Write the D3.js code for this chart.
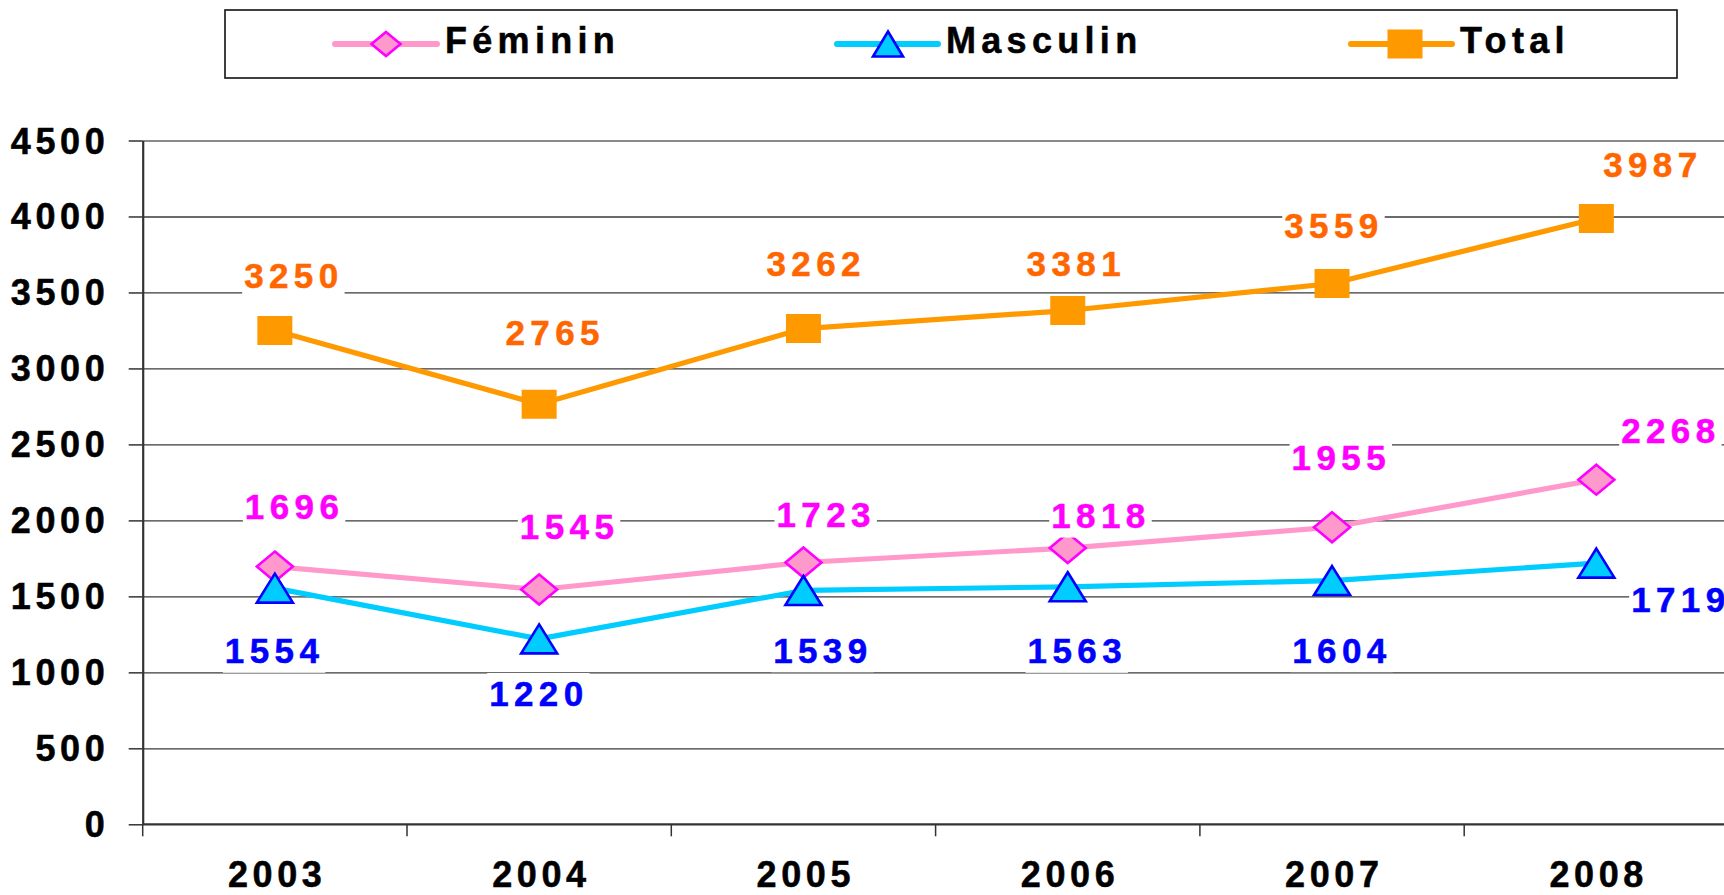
<!DOCTYPE html>
<html><head><meta charset="utf-8">
<script src="https://cdn.jsdelivr.net/npm/d3@7"></script>
<style>
body{margin:0;background:#fff;}
svg{display:block;font-family:"Liberation Sans",Arial,sans-serif;font-weight:bold;}
</style>
</head><body>
<svg id="chart" width="1724" height="895"></svg>
<script>
// ---------- data ----------
const years = ["2003","2004","2005","2006","2007","2008"];
const feminin = [1696, 1545, 1723, 1818, 1955, 2268];
const masculin = [1554, 1220, 1539, 1563, 1604, 1719];
const total = [3250, 2765, 3262, 3381, 3559, 3987];
const yTicks = [0, 500, 1000, 1500, 2000, 2500, 3000, 3500, 4000, 4500];
const seriesNames = ["Féminin", "Masculin", "Total"];

// ---------- layout (label offsets from their point, px) ----------
const feminLabelOff = [[-28.5,-47.3],[-17.8,-50.2],[-25.5,-35.8],[-15,-20],[-39,-57.2],[26.3,-36.4]];
const mascLabelOff  = [[-48.5,75.1],[-48.5,67.1],[-28.8,72.3],[-38.7,76.5],[-38.3,82.1],[36.3,48.6]];
const totalLabelOff = [[-29.2,-42.1],[-32.2,-59.1],[-35.5,-52.9],[-39.7,-34.8],[-46.3,-45.2],[8.3,-41.2]];

const W = 1724, H = 895;
const X0 = 142.7, BAND = 264.3;
const svg = d3.select("#chart");

const x = d3.scaleBand().domain(years).range([X0, X0 + 6 * BAND]).padding(0);
const y = d3.scaleLinear().domain([0, 4500]).range([824.3, 140.5]);
const cx = d => x(d) + x.bandwidth() / 2;
const FONT = '"Liberation Sans", Arial, sans-serif';

// ---------- gridlines ----------
const grid = svg.append("g").attr("transform", `translate(${X0},0)`)
  .call(d3.axisLeft(y).tickValues(yTicks.filter(v => v > 0)).tickSize(-(W - X0)).tickFormat(""));
grid.select(".domain").remove();
grid.selectAll(".tick line")
  .attr("stroke", d => d === 4500 ? "#8a8a8a" : "#3a3a3a")
  .attr("stroke-width", d => d === 4500 ? 2.2 : 1.3);

// ---------- y axis ----------
const yAxis = svg.append("g").attr("transform", `translate(${X0},0)`)
  .call(d3.axisLeft(y).tickValues(yTicks).tickFormat(d3.format("d")).tickSize(14).tickSizeOuter(0));
yAxis.attr("font-family", null).attr("font-size", null);
yAxis.select(".domain").attr("stroke", "#333").attr("stroke-width", 2.2);
yAxis.selectAll(".tick line").attr("stroke", "#333").attr("stroke-width", 1.5);
yAxis.selectAll(".tick text")
  .attr("x", -33.4).attr("dy", null).attr("y", 12.5)
  .attr("text-anchor", "end")
  .attr("font-family", FONT).attr("font-weight", "bold").attr("font-size", 36)
  .style("letter-spacing", "4.6px").attr("fill", "#000")
  .attr("stroke", "#000").attr("stroke-width", 0.5);

// ---------- x axis ----------
const xAxis = svg.append("g").attr("transform", `translate(0,${y(0)})`)
  .call(d3.axisBottom(x).tickSize(0).tickSizeOuter(0));
xAxis.attr("font-family", null).attr("font-size", null);
xAxis.select(".domain").remove();
xAxis.append("line").attr("x1", X0).attr("x2", W).attr("y1", 0).attr("y2", 0)
  .attr("stroke", "#333").attr("stroke-width", 2.2);
xAxis.selectAll(".tick text")
  .attr("y", 63.2).attr("dy", null).attr("x", 2.3)
  .attr("font-family", FONT).attr("font-weight", "bold").attr("font-size", 36)
  .style("letter-spacing", "4.6px").attr("fill", "#000")
  .attr("stroke", "#000").attr("stroke-width", 0.5);
const bounds = years.map(d => x(d)).concat([x.range()[1]]);
xAxis.selectAll(".bt").data(bounds).join("line").attr("class", "bt")
  .attr("x1", d => d).attr("x2", d => d).attr("y1", 0).attr("y2", 12)
  .attr("stroke", "#333").attr("stroke-width", 1.5);

// ---------- series ----------
const diamond = (w, h) => `M0,${-h/2}L${w/2},0L0,${h/2}L${-w/2},0Z`;
const triangle = (w, h) => `M0,${-h/2}L${w/2},${h/2}L${-w/2},${h/2}Z`;
const square = (w, h) => `M${-w/2},${-h/2}h${w}v${h}h${-w}Z`;

const series = [
  {name: seriesNames[0], values: feminin, line: "#FF99CC", fill: "#FF99CC", stroke: "#FF00FF", sw: 2.6,
   shape: diamond, mw: 36, mh: 30, lw: 29, lh: 24, label: "#FF00FF", off: feminLabelOff},
  {name: seriesNames[1], values: masculin, line: "#00CCFF", fill: "#00CCFF", stroke: "#0000FF", sw: 2.6,
   shape: triangle, mw: 36, mh: 29, lw: 30, lh: 25, label: "#0000FF", off: mascLabelOff},
  {name: seriesNames[2], values: total, line: "#FF9900", fill: "#FF9900", stroke: "none", sw: 0,
   shape: square, mw: 35, mh: 29, lw: 35, lh: 29, label: "#FF6600", off: totalLabelOff}
];

const lineGen = d3.line().x((d, i) => cx(years[i])).y(d => y(d));

series.forEach(s => {
  const g = svg.append("g");
  g.append("path").datum(s.values).attr("d", lineGen)
    .attr("fill", "none").attr("stroke", s.line).attr("stroke-width", 5.2)
    .attr("stroke-linejoin", "round");
  g.selectAll(".m").data(s.values).join("path").attr("class", "m")
    .attr("transform", (d, i) => `translate(${cx(years[i])},${y(d)})`)
    .attr("d", s.shape(s.mw, s.mh))
    .attr("fill", s.fill).attr("stroke", s.stroke).attr("stroke-width", s.sw)
    .attr("stroke-linejoin", "miter");
});

// ---------- data labels ----------
series.forEach(s => {
  const g = svg.append("g");
  s.values.forEach((v, i) => {
    const lx = cx(years[i]) + s.off[i][0] - 1.5;
    const ly = y(v) + s.off[i][1];
    const lg = g.append("g");
    const rect = lg.append("rect").attr("fill", "#fff");
    const t = lg.append("text").attr("x", lx).attr("y", ly)
      .attr("font-family", FONT).attr("font-weight", "bold").attr("font-size", 35)
      .style("letter-spacing", "5.4px").attr("fill", s.label)
      .attr("stroke", s.label).attr("stroke-width", 0.5).text(v);
    const bb = t.node().getBBox();
    rect.attr("x", bb.x - 2).attr("width", bb.width + 3)
      .attr("y", ly - 33).attr("height", 42.5);
  });
});

// ---------- legend ----------
const leg = svg.append("g");
leg.append("rect").attr("x", 225).attr("y", 10).attr("width", 1452).attr("height", 68)
  .attr("fill", "#fff").attr("stroke", "#111").attr("stroke-width", 1.6);
const legPos = [{l1: 335, l2: 437, m: 386, t: 445},
                {l1: 837, l2: 938, m: 888, t: 946},
                {l1: 1351, l2: 1452, m: 1405, t: 1460}];
series.forEach((s, k) => {
  const p = legPos[k];
  leg.append("line").attr("x1", p.l1).attr("x2", p.l2).attr("y1", 44).attr("y2", 44)
    .attr("stroke", s.line).attr("stroke-width", 6).attr("stroke-linecap", "round");
  leg.append("path").attr("transform", `translate(${p.m},44)`)
    .attr("d", s.shape(s.lw, s.lh))
    .attr("fill", s.fill).attr("stroke", s.stroke).attr("stroke-width", s.sw);
  leg.append("text").attr("x", p.t).attr("y", 53.3)
    .attr("font-family", FONT).attr("font-weight", "bold").attr("font-size", 36)
    .style("letter-spacing", "5.3px").attr("fill", "#000")
    .attr("stroke", "#000").attr("stroke-width", 0.5).text(s.name);
});
</script>
</body></html>
